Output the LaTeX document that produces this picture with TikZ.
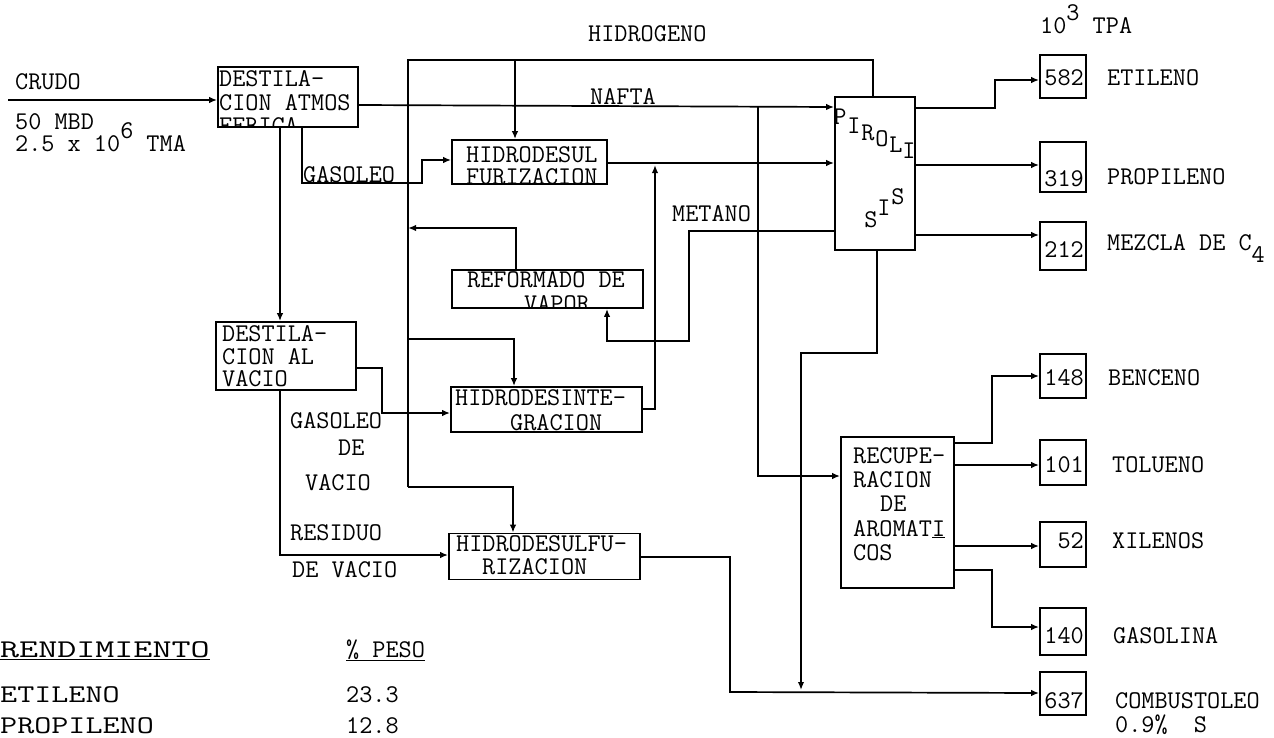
\documentclass[tikz,border=0pt]{standalone}
\usepackage{fontspec}
\usetikzlibrary{arrows.meta}
\tikzset{
  box/.style={draw, line width=1.8pt, inner sep=0pt},
  wire/.style={line width=1.7pt},
  flow/.style={wire, -{Latex[length=8pt,width=6.5pt]}},
  lbl/.style={font={\ttfamily\fontsize{25.5}{27}\selectfont}, inner sep=0pt, anchor=base west},
  lblr/.style={lbl, anchor=base east},
  ml/.style={inner sep=0pt, align=left, anchor=north west,
             font={\ttfamily\fontsize{25.5}{#1}\selectfont}},
}
\begin{document}
\begin{tikzpicture}[x=1pt,y=-1pt]
\useasboundingbox (0,0) rectangle (1274,737);
% ---------- process boxes ----------
\node[box, minimum width=140pt, minimum height=60pt] (da) at (288,97) {};
\node[box, minimum width=155pt, minimum height=44pt] (hds1) at (529.5,162) {};
\node[box, minimum width=191pt, minimum height=38pt] (ref) at (547.5,289) {};
\node[box, minimum width=191pt, minimum height=45pt] (hdi) at (546.5,409.5) {};
\node[box, minimum width=140pt, minimum height=68pt] (dv) at (286,356) {};
\node[box, minimum width=191pt, minimum height=46pt] (hds2) at (544.5,556.5) {};
\node[box, minimum width=80pt, minimum height=153pt] (pir) at (875,173.5) {};
\node[box, minimum width=113pt, minimum height=151pt] (rec) at (897.5,512.5) {};
% ---------- product boxes ----------
\node[box, minimum width=46pt, minimum height=43pt] (b582) at (1063,76.5) {};
\node[box, minimum width=46pt, minimum height=50pt] (b319) at (1063,167) {};
\node[box, minimum width=46pt, minimum height=48pt] (b212) at (1063,246) {};
\node[box, minimum width=46pt, minimum height=44pt] (b148) at (1063,376) {};
\node[box, minimum width=46pt, minimum height=45pt] (b101) at (1063,462.5) {};
\node[box, minimum width=46pt, minimum height=45pt] (b52) at (1063,544.5) {};
\node[box, minimum width=46pt, minimum height=47pt] (b140) at (1063,631.5) {};
\node[box, minimum width=46pt, minimum height=43pt] (b637) at (1063,693.5) {};
% ---------- texts inside boxes ----------
\begin{scope}
  \clip (da.south west) rectangle (da.north east);
  \node[ml=23.5pt] (tda) at (219,70.4) {DESTILA-\\CION ATMOS\\FERICA};
\end{scope}
\begin{scope}
  \clip (hds1.south west) rectangle (hds1.north east);
  \node[ml=22pt] (th) at (466,146.4) {HIDRODESUL\\FURIZACION};
\end{scope}
\begin{scope}
  \clip (ref.south west) rectangle (ref.north east);
  \node[ml=24pt] (tr) at (467,271.4) {REFORMADO DE\\\hspace*{57pt}VAPOR};
\end{scope}
\node[ml=25pt] (ti) at (455,389.4) {HIDRODESINTE-\\\hspace*{55pt}GRACION};
\node[ml=22.5pt] (tv) at (222,325.5) {DESTILA-\\CION AL\\VACIO};
\node[ml=23pt] (ts) at (456,535.5) {HIDRODESULFU-\\\hspace*{26pt}RIZACION};
\node[ml=24.25pt] (tc) at (853,447.4) {RECUPE-\\RACION\\\hspace*{27pt}DE\\AROMAT\underline{I}\\COS};
% PIROLISIS letters
\node[lbl, anchor=center] (p1) at (840,117) {P};
\node[lbl, anchor=center] (p2) at (854,126) {I};
\node[lbl, anchor=center] (p3) at (868,133) {R};
\node[lbl, anchor=center] (p4) at (882,139) {O};
\node[lbl, anchor=center] (p5) at (896,145) {L};
\node[lbl, anchor=center] (p6) at (909,151) {I};
\node[lbl, anchor=center] (p7) at (898,197) {S};
\node[lbl, anchor=center] (p8) at (884,208) {I};
\node[lbl, anchor=center] (p9) at (871,220) {S};
% numbers
\node[lblr] (n582) at (1084,85) {582};
\node[lblr] (n319) at (1084,186) {319};
\node[lblr] (n212) at (1084,257) {212};
\node[lblr] (n148) at (1084,385) {148};
\node[lblr] (n101) at (1084,472) {101};
\node[lblr] (n52) at (1084,548) {52};
\node[lblr] (n140) at (1084,643) {140};
\node[lblr] (n637) at (1084,708) {637};
% ---------- free labels ----------
\node[lbl] (lcrudo) at (15,89) {CRUDO};
\node[lbl] (lmbd) at (15,129) {50 MBD};
\node[lbl] (ltma) at (15,151) {2.5 x 10\raisebox{1.1ex}{6} TMA};
\node[lbl] (lh2) at (588,41) {HIDROGENO};
\node[lbl] (lnafta) at (590,104) {NAFTA};
\node[lbl] (lgas1) at (303,182) {GASOLEO};
\node[lbl] (lmet) at (672,221) {METANO};
\node[lbl] (lgas2) at (290,428) {GASOLEO};
\node[lbl] (lde1) at (338,455) {DE};
\node[lbl] (lvac1) at (305,490) {VACIO};
\node[lbl] (lres) at (290,540) {RESIDUO};
\node[lbl] (lde2) at (292,577) {DE VACIO};
\node[lbl] (ltpa) at (1040,33) {10\raisebox{1.1ex}{3} TPA};
\node[lbl] (let) at (1107,85) {ETILENO};
\node[lbl] (lpro) at (1107,184) {PROPILENO};
\node[lbl] (lmez) at (1107,250) {MEZCLA DE C\raisebox{-1.1ex}{4}};
\node[lbl] (lben) at (1108,385) {BENCENO};
\node[lbl] (ltol) at (1112,472) {TOLUENO};
\node[lbl] (lxil) at (1112,548) {XILENOS};
\node[lbl] (lgsl) at (1113,643) {GASOLINA};
\node[lbl] (lcom) at (1115,708) {COMBUSTOLEO};
\node[lbl] (lsul) at (1115,732) {0.9\%\ \ S};
% legend
\node[lbl] (lren) at (0,657) {\scalebox{1.45}[1]{\underline{RENDIMIENTO}}};
\node[lbl] (lpes) at (346,657) {\underline{\% PESO}};
\node[lbl] (lget) at (0,702) {\scalebox{1.3}[1]{ETILENO}};
\node[lbl] (lg23) at (346,702) {23.3};
\node[lbl] (lgpr) at (0,733) {\scalebox{1.3}[1]{PROPILENO}};
\node[lbl] (lg12) at (346,733) {12.8};
% ---------- connectors ----------
\coordinate (crudo) at (8,100);
\draw[flow] (crudo) -- (da.west |- crudo);
\draw[flow] (da.east |- 0,105) -- (pir.west |- 0,107);
\draw[flow] (280,0 |- da.south) -- (280,0 |- dv.north);
\draw[flow] (302,0 |- da.south) -- (302,183) -- (422,183) -- (422,160) -- (hds1.west |- 0,160);
% hydrogen network
\draw[flow] (516,0 |- ref.north) -- (516,228) -- (408,228);
\draw[wire] (408,487) -- (408,60) -- (873,60) -- (873,0 |- pir.north);
\draw[flow] (515,60) -- (515,0 |- hds1.north);
\draw[flow] (408,339) -- (514,339) -- (514,0 |- hdi.north);
\draw[flow] (408,487) -- (513,487) -- (513,0 |- hds2.north);
% other flows
\draw[flow] (hds1.east |- 0,163) -- (pir.west |- 0,163);
\draw[flow] (hdi.east |- 0,409) -- (655,409) -- (655,165);
\draw[flow] (pir.west |- 0,231) -- (689,231) -- (689,341) -- (607,341) -- (607,0 |- ref.south);
\draw[flow] (758,106) -- (758,476) -- (rec.west |- 0,476);
\draw[flow] (dv.east |- 0,368) -- (382,368) -- (382,413) -- (hdi.west |- 0,413);
\draw[flow] (280,0 |- dv.south) -- (280,555) -- (hds2.west |- 0,555);
\draw[flow] (hds2.east |- 0,557) -- (730,557) -- (730,692) -- (b637.west |- 0,693);
\draw[flow] (877,0 |- pir.south) -- (877,353) -- (801,353) -- (801,690);
\draw[flow] (pir.east |- 0,108) -- (995,108) -- (995,80) -- (b582.west |- 0,80);
\draw[flow] (pir.east |- 0,165) -- (b319.west |- 0,165);
\draw[flow] (pir.east |- 0,235) -- (b212.west |- 0,235);
\draw[flow] (rec.east |- 0,443) -- (992,443) -- (992,376) -- (b148.west |- 0,376);
\draw[flow] (rec.east |- 0,465) -- (b101.west |- 0,465);
\draw[flow] (rec.east |- 0,546) -- (b52.west |- 0,546);
\draw[flow] (rec.east |- 0,570) -- (992,570) -- (992,627) -- (b140.west |- 0,627);
\end{tikzpicture}
\end{document}
